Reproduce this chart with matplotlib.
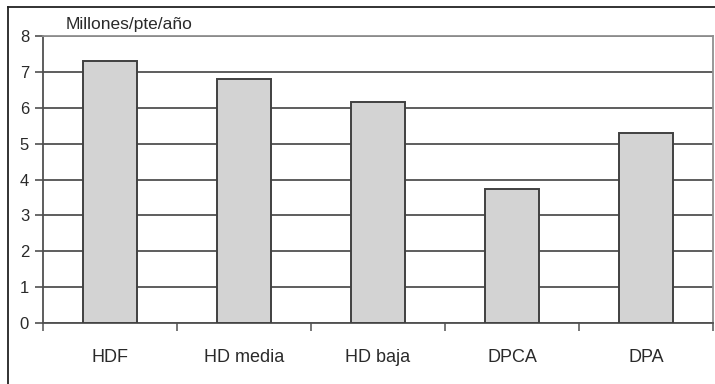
import numpy as np
import matplotlib.pyplot as plt
from matplotlib.lines import Line2D

plt.rcParams['font.family'] = ['Liberation Sans', 'DejaVu Sans']
plt.rcParams['text.color'] = '#2a2a2a'
plt.rcParams['xtick.labelcolor'] = '#2a2a2a'
plt.rcParams['ytick.labelcolor'] = '#2a2a2a'

categories = ['HDF', 'HD media', 'HD baja', 'DPCA', 'DPA']
coste = [7.3, 6.8, 6.15, 3.73, 5.3]
yticks = [0, 1, 2, 3, 4, 5, 6, 7, 8]

W, H = 715, 384
fig = plt.figure(figsize=(W / 100, H / 100), dpi=100)
ax = fig.add_axes([43 / W, 61 / H, 670 / W, 287 / H])

x = np.arange(len(categories))
ax.yaxis.grid(True, color='#505050', linewidth=1.3)
ax.set_axisbelow(True)
ax.bar(x, coste, width=0.4, color='#d3d3d3', edgecolor='#404040', linewidth=1.4, zorder=3)

ax.set_xlim(-0.5, len(categories) - 0.5)
ax.set_ylim(0, 8)
ax.set_yticks(yticks)
ax.tick_params(axis='y', length=6, width=1.2, color='#505050', labelsize=12, pad=4)

# category names centred, tick marks between categories
ax.set_xticks(x)
ax.set_xticklabels(categories, fontsize=13)
ax.set_xticks(np.arange(-0.5, len(categories)), minor=True)
ax.tick_params(axis='x', which='major', length=0, pad=19)
ax.tick_params(axis='x', which='minor', length=6, width=1.2, color='#606060')

for side in ['left', 'bottom']:
    ax.spines[side].set_color('#505050')
    ax.spines[side].set_linewidth(1.3)
for side in ['top', 'right']:
    ax.spines[side].set_color('#909090')
    ax.spines[side].set_linewidth(1.3)

fig.text(66 / W, 1 - 25 / H, 'Millones/pte/año', fontsize=12.5, va='center', ha='left')

# outer frame
fy = 1 - 7 / H
fx = 8 / W
fig.add_artist(Line2D([fx, fx], [0, fy], color='#222222', linewidth=1.3))
fig.add_artist(Line2D([fx, 1], [fy, fy], color='#222222', linewidth=1.3))

fig.savefig('out.png', dpi=100)
